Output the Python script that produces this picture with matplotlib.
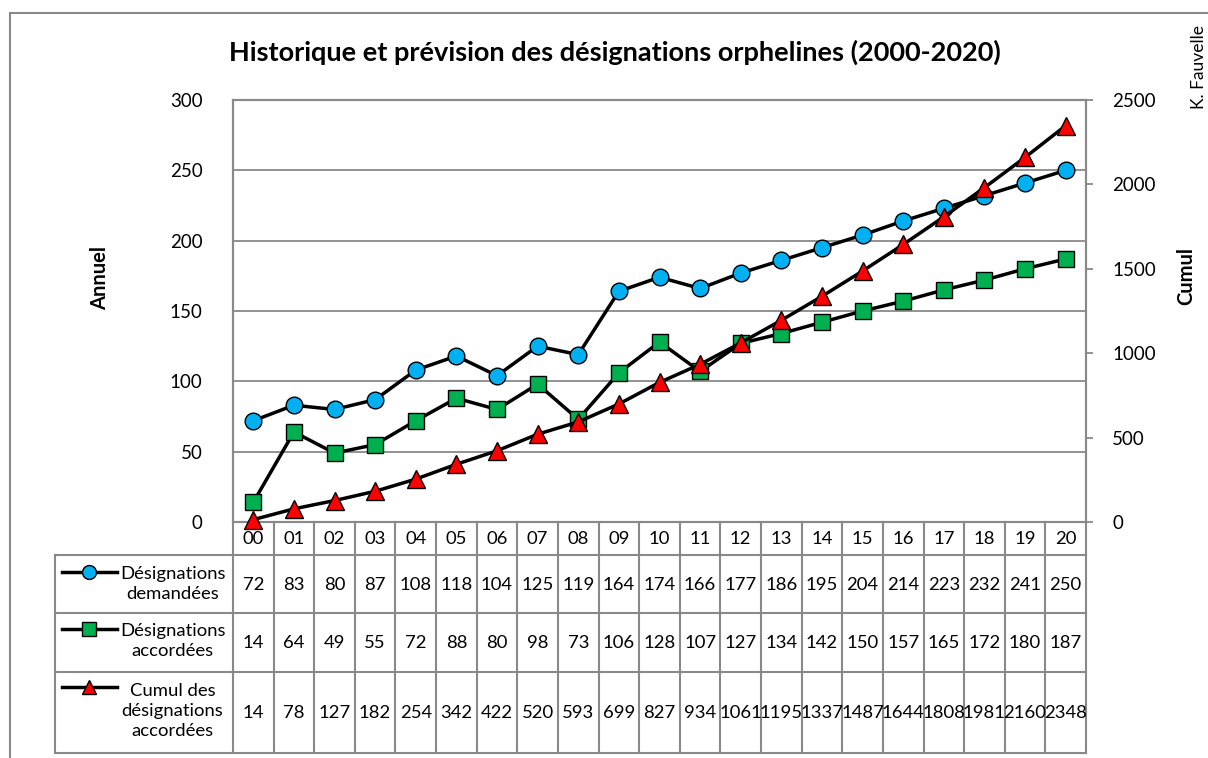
import matplotlib
matplotlib.use("Agg")
import matplotlib.pyplot as plt
from matplotlib.patches import Rectangle
from matplotlib.lines import Line2D

plt.rcParams['font.family'] = ['Lato', 'DejaVu Sans']

categories = ["00", "01", "02", "03", "04", "05", "06", "07", "08", "09", "10",
              "11", "12", "13", "14", "15", "16", "17", "18", "19", "20"]
demandees = [72, 83, 80, 87, 108, 118, 104, 125, 119, 164, 174,
             166, 177, 186, 195, 204, 214, 223, 232, 241, 250]
accordees = [14, 64, 49, 55, 72, 88, 80, 98, 73, 106, 128,
             107, 127, 134, 142, 150, 157, 165, 172, 180, 187]
cumul = [14, 78, 127, 182, 254, 342, 422, 520, 593, 699, 827,
         934, 1061, 1195, 1337, 1487, 1644, 1808, 1981, 2160, 2348]
series_labels = ["Désignations\ndemandées", "Désignations\naccordées",
                 "Cumul des\ndésignations\naccordées"]
left_ticks = [0, 50, 100, 150, 200, 250, 300]
right_ticks = [0, 500, 1000, 1500, 2000, 2500]

W, H = 1208, 758
fig = plt.figure(figsize=(W / 100, H / 100), dpi=100)
GRAY = '#898989'

def fx(px):
    return px / W

def fy(py):
    return 1 - py / H

# outer chart border
fig.patches.append(Rectangle((fx(10), fy(800)), fx(1300), fy(13) - fy(800),
                             transform=fig.transFigure, fill=False,
                             edgecolor=GRAY, lw=1.5))

L, R, T, B = 233, 1086, 100, 522
ax = fig.add_axes([fx(L), fy(B), fx(R) - fx(L), fy(T) - fy(B)])
ax2 = ax.twinx()

x = list(range(len(categories)))
ax.set_xlim(-0.5, len(categories) - 0.5)
ax.set_ylim(0, 300)
ax2.set_ylim(0, 2500)
ax.set_yticks(left_ticks)
ax2.set_yticks(right_ticks)
ax.set_xticks([])
ax.grid(axis='y', color=GRAY, lw=1.3)
ax.set_axisbelow(True)
for a in (ax, ax2):
    for s in a.spines.values():
        s.set_color(GRAY)
        s.set_linewidth(1.5)
ax.tick_params(axis='y', length=0, labelsize=13.5, pad=22)
ax2.tick_params(axis='y', length=5, width=1.3, color=GRAY, labelsize=13.5, pad=14)

styles = [
    dict(marker='o', mfc='#00B0F0', ms=12),
    dict(marker='s', mfc='#00B050', ms=12),
    dict(marker='^', mfc='#FF0000', ms=13),
]
common = dict(color='black', lw=2.5, mec='black', mew=1.0, clip_on=False)
ax.plot(x, demandees, **common, **styles[0], zorder=3)
ax.plot(x, accordees, **common, **styles[1], zorder=3)
ax2.plot(x, cumul, **common, **styles[2], zorder=4)

fig.text(fx(100), fy(278), "Annuel", rotation=90, ha='center', va='center',
         fontsize=14.5, fontweight='bold')
fig.text(fx(1186), fy(276), "Cumul", rotation=90, ha='center', va='center',
         fontsize=14.5, fontweight='bold')

fig.text(fx(615), fy(52), "Historique et prévision des désignations orphelines (2000-2020)",
         ha='center', va='center', fontsize=19.5, fontweight='bold')
fig.text(fx(1199), fy(67), "K. Fauvelle", rotation=90, ha='center', va='center',
         fontsize=12.5)

# data table
cell_w = (R - L) / len(categories)
rows_y = [522, 555, 613, 672, 753]
tab_left = 55
lines_kw = dict(color=GRAY, lw=1.5, transform=fig.transFigure, clip_on=False)
for yy in rows_y[1:]:
    fig.add_artist(Line2D([fx(tab_left), fx(R)], [fy(yy)] * 2, **lines_kw))
for i in range(len(categories) + 1):
    xx = L + i * cell_w
    fig.add_artist(Line2D([fx(xx)] * 2, [fy(rows_y[0]), fy(rows_y[-1])], **lines_kw))
fig.add_artist(Line2D([fx(tab_left)] * 2, [fy(rows_y[1]), fy(rows_y[-1])], **lines_kw))

for i, c in enumerate(categories):
    cx = L + (i + 0.5) * cell_w
    fig.text(fx(cx), fy((rows_y[0] + rows_y[1]) / 2 + 1), c, ha='center', va='center', fontsize=13.3)
    for r, vals in enumerate([demandees, accordees, cumul]):
        cy = (rows_y[r + 1] + rows_y[r + 2]) / 2
        fig.text(fx(cx), fy(cy + 1), str(vals[i]), ha='center', va='center', fontsize=13.3)

key_y = [572, 629, 687]
text_cy = [584, 641, 711]
for r in range(3):
    fig.add_artist(Line2D([fx(62), fx(117)], [fy(key_y[r])] * 2, color='black', lw=2.5,
                          transform=fig.transFigure))
    fig.add_artist(Line2D([fx(89)], [fy(key_y[r])], color='black', lw=0,
                          marker=styles[r]['marker'], mfc=styles[r]['mfc'], mec='black',
                          mew=1.0, ms=10, transform=fig.transFigure))
    fig.text(fx(172.5), fy(text_cy[r]), series_labels[r], ha='center', va='center',
             fontsize=13.3, linespacing=1.3)

fig.savefig("out.png", dpi=100)
